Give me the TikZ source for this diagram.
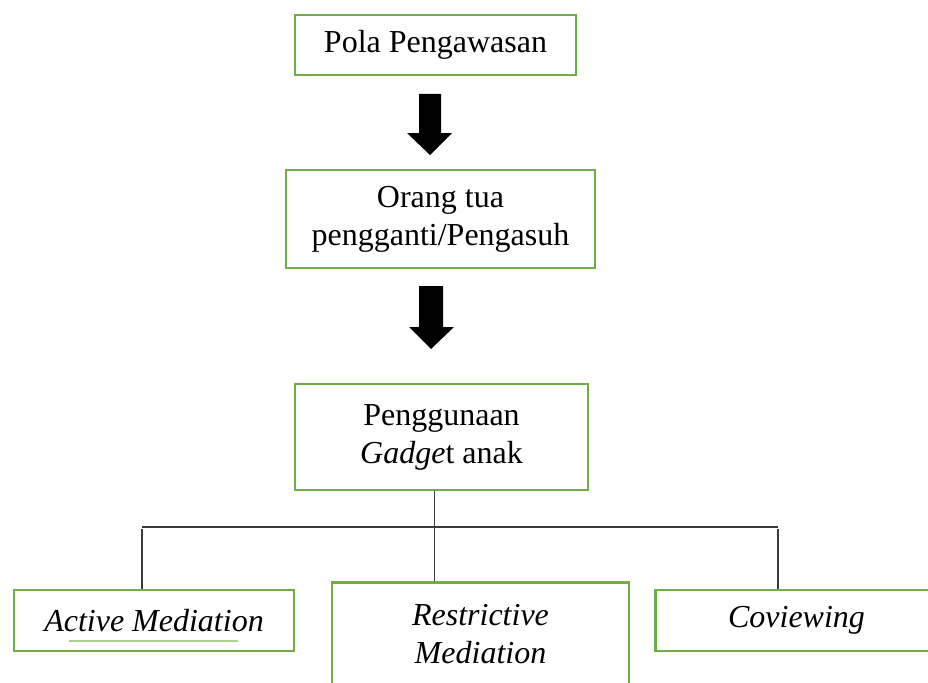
\documentclass[tikz,border=0pt]{standalone}
\usepackage{fontspec}
\setmainfont{Liberation Serif}
\definecolor{boxgreen}{RGB}{112,173,71}
\definecolor{ulgreen}{RGB}{169,209,142}
\definecolor{linegray}{RGB}{60,60,60}
\begin{document}
\begin{tikzpicture}[x=1pt,y=-1pt,
  box/.style={draw=boxgreen,line width=2.6pt,inner sep=0pt,align=center,
    font=\fontsize{32}{38}\selectfont},
  conn/.style={draw=linegray,line width=1.2pt},
  blockarrow/.style={fill=black,draw=none}]
\useasboundingbox (0,0) rectangle (928,682);
\node[box,minimum width=281pt,minimum height=60pt] (b1) at (435.5,45) {Pola Pengawasan};
\node[box,minimum width=309pt,minimum height=98pt] (b2) at (440.5,219) {Orang tua\\pengganti/Pengasuh};
\node[box,minimum width=293pt,minimum height=106pt] (b3) at (441.5,437) {Penggunaan\\\textit{Gadge}t anak};
\node[box,minimum width=280pt,minimum height=61pt] (left) at (154,620.5) {\textit{Active Mediation}};
\node[box,minimum width=297pt,minimum height=103pt] (mid) at (480.5,634) {\textit{Restrictive}\\\textit{Mediation}};
\node[box,minimum width=282pt,minimum height=61pt] (right) at (796.5,620.5) {\textit{Coviewing}};
% block arrows
\path[blockarrow] (419,94) -- (441,94) -- (441,133) -- (452,133) -- (430,155) -- (407,133) -- (419,133) -- cycle;
\path[blockarrow] (419,286) -- (443,286) -- (443,327) -- (454,327) -- (431,349) -- (409,327) -- (419,327) -- cycle;
% tree connectors
\coordinate (j) at (434,527);
\coordinate (hl) at (142,527);
\coordinate (hr) at (778,527);
\draw[conn,line width=0.9pt] (b3.south -| j) -- (mid.north -| j);
\draw[conn,line width=1.5pt] (hl) -- (hr);
\draw[conn] ([yshift=-2pt]hl) -- (hl |- left.north);
\draw[conn] ([yshift=-2pt]hr) -- (hr |- right.north);
% underline artefact
\draw[ulgreen,line width=1.2pt] (69,641) -- (238,641);
\end{tikzpicture}
\end{document}
